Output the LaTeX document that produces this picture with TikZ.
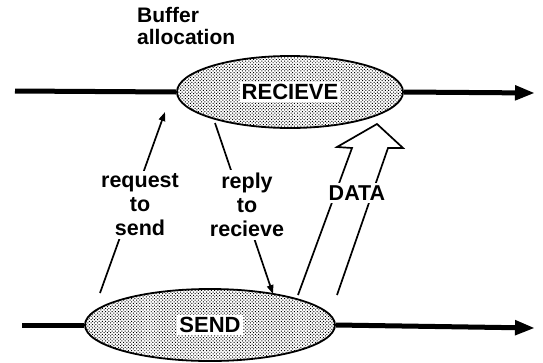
\documentclass[tikz,border=0pt]{standalone}
\usepackage{fontspec}
\setmainfont{Liberation Sans}
\usetikzlibrary{shapes.geometric,arrows.meta,patterns.meta}
\begin{document}
\begin{tikzpicture}[x=1pt,y=-1pt,
  proc/.style={ellipse,draw=black,line width=1.8pt,inner sep=0pt,
    preaction={fill=white},
    pattern={Dots[distance=2.3pt,radius=0.7pt,angle=45]},
    font=\bfseries\fontsize{22}{24}\selectfont},
  mainline/.style={line width=5pt,line cap=butt},
  bigtip/.style={-{Triangle[length=20pt,width=14pt]}},
  thinarrow/.style={line width=1.7pt,-{Triangle[length=9pt,width=6.5pt]}},
  hollow/.style={line width=1.7pt,line join=miter},
  lbl/.style={font=\bfseries\fontsize{21.5}{24}\selectfont,align=center,fill=white,inner sep=3pt},
  ttl/.style={font=\bfseries\fontsize{21}{22.5}\selectfont,align=left,inner sep=0pt}]
\useasboundingbox (0,0) rectangle (543,362);

% processes
\node[proc,minimum width=226pt,minimum height=72pt] (recv) at (290,92) {\fboxsep=2pt\colorbox{white}{RECIEVE}};
\node[proc,minimum width=250pt,minimum height=72pt] (send) at (210,325) {\fboxsep=2pt\colorbox{white}{SEND}};

% time lines
\coordinate (tl) at (15,91);
\coordinate (tr) at (535,93);
\coordinate (bl) at (22,325);
\coordinate (br) at (535,328);
\draw[mainline] (tl) -- (recv.west);
\draw[mainline,bigtip] (recv.east) -- (tr);
\draw[mainline] (bl) -- (send.west);
\draw[mainline,bigtip] (send.east) -- (br);

% request to send
\coordinate (rqs) at (100,293);
\coordinate (rqe) at (165,112);
\draw[thinarrow] (rqs) -- (rqe);
% reply to recieve
\coordinate (rps) at (215,123);
\coordinate (rpe) at (273,294);
\draw[thinarrow] (rps) -- (rpe);

% DATA hollow arrow
\coordinate (d1) at (298,295);
\coordinate (d2) at (352,148);
\coordinate (d3) at (337,147);
\coordinate (d4) at (377,124);
\coordinate (d5) at (403,148);
\coordinate (d6) at (388,148);
\coordinate (d7) at (337,295);
\draw[hollow] (d1) -- (d2) -- (d3) -- (d4) -- (d5) -- (d6) -- (d7);

% labels
\node[lbl] (req) at (140,205) {request\\to\\send};
\node[lbl] (rep) at (247,205) {reply\\to\\recieve};
\node[lbl] (data) at (357,193) {DATA};
\node[ttl,anchor=north west] (buf) at (137,7) {Buffer\\allocation};
\end{tikzpicture}
\end{document}
